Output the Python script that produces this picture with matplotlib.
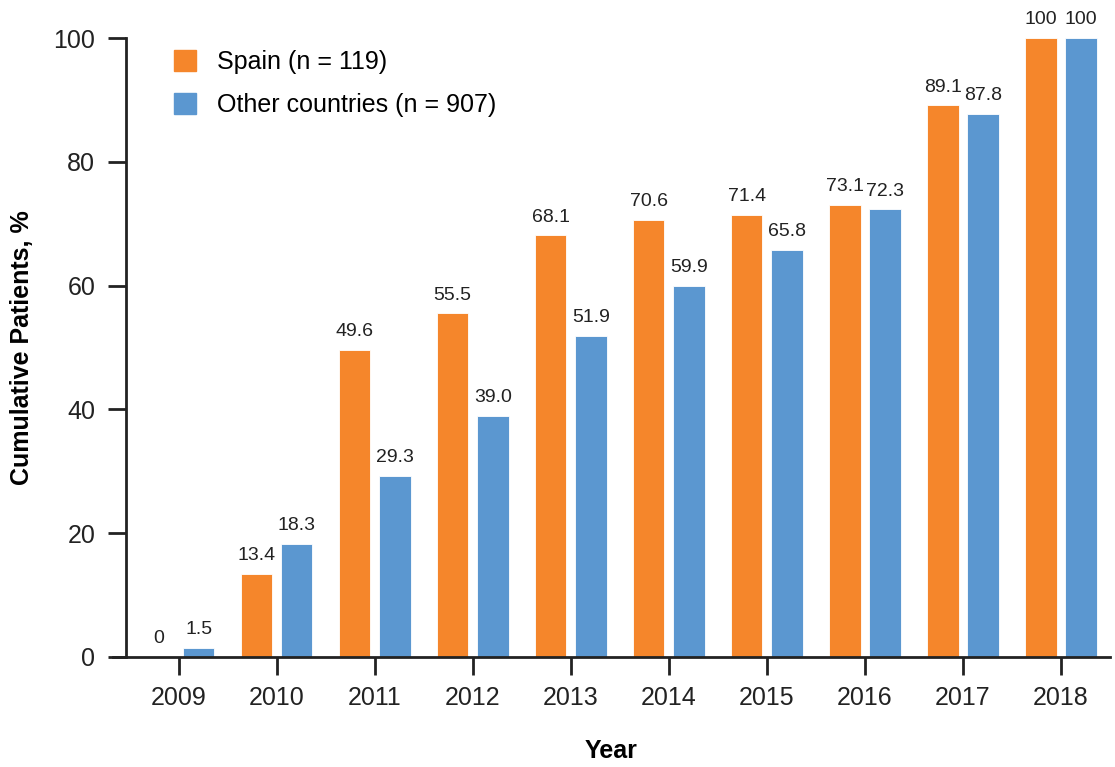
import numpy as np
import matplotlib.pyplot as plt
from matplotlib.patches import Patch

plt.rcParams['font.family'] = ['Liberation Sans', 'DejaVu Sans']

years = ['2009', '2010', '2011', '2012', '2013', '2014', '2015', '2016', '2017', '2018']
spain = [0, 13.4, 49.6, 55.5, 68.1, 70.6, 71.4, 73.1, 89.1, 100]
other = [1.5, 18.3, 29.3, 39.0, 51.9, 59.9, 65.8, 72.3, 87.8, 100]
spain_labels = ['0', '13.4', '49.6', '55.5', '68.1', '70.6', '71.4', '73.1', '89.1', '100']
other_labels = ['1.5', '18.3', '29.3', '39.0', '51.9', '59.9', '65.8', '72.3', '87.8', '100']

orange = '#F5862B'
blue = '#5B97D0'

fig = plt.figure(figsize=(11.15, 7.67), dpi=100)
ax = fig.add_axes([113/1115, 1-657/767, (1110-113)/1115, (657-38)/767])

x = np.arange(len(years))
w = 0.32
off = 0.205
b1 = ax.bar(x - off, spain, w, color=orange, edgecolor='white', linewidth=0.6)
b2 = ax.bar(x + off, other, w, color=blue, edgecolor='white', linewidth=0.6)

# value labels above bars
for bars, labs in ((b1, spain_labels), (b2, other_labels)):
    for b, lab in zip(bars, labs):
        ax.annotate(lab, (b.get_x() + b.get_width()/2, b.get_height()),
                    xytext=(0, 7), textcoords='offset points',
                    ha='center', va='bottom', fontsize=14, color='#222222',
                    annotation_clip=False)

ax.set_xlim(-0.67, 9.5)
ax.set_ylim(0, 100)
ax.spines['top'].set_visible(False)
ax.spines['right'].set_visible(False)
ax.spines['left'].set_position(('data', -0.54))
for s in ('left', 'bottom'):
    ax.spines[s].set_linewidth(2)
    ax.spines[s].set_color('#222222')

ax.set_xticks(x)
ax.set_xticklabels(years)
ax.set_yticks([0, 20, 40, 60, 80, 100])
ax.tick_params(axis='both', length=13, width=2, color='#222222',
               labelsize=18, labelcolor='#222222')
ax.tick_params(axis='x', pad=8)
ax.tick_params(axis='y', pad=9)

ax.set_xlabel('Year', fontsize=18, fontweight='bold', labelpad=21)
ax.set_ylabel('Cumulative Patients, %', fontsize=18, fontweight='bold', labelpad=14)

handles = [Patch(color=orange), Patch(color=blue)]
ax.legend(handles, ['Spain (n = 119)', 'Other countries (n = 907)'],
          loc='upper left', bbox_to_anchor=(0.039, 1.017), frameon=False,
          fontsize=18, handlelength=0.88, handleheight=0.88,
          handletextpad=0.84, labelspacing=0.77)

fig.savefig('out.png', dpi=100)
